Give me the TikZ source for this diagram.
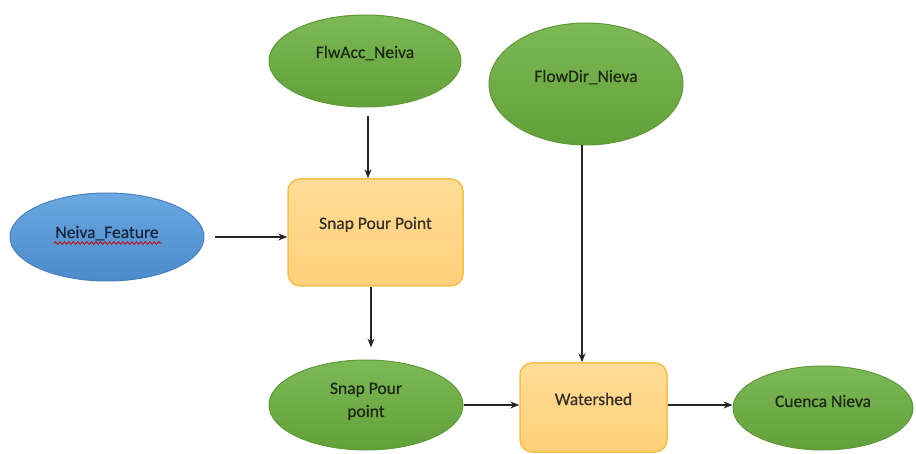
\documentclass[tikz,border=0pt]{standalone}
\usepackage{fontspec}
\setmainfont{Carlito}
\newfontfamily\semib[FakeBold=0.6]{Carlito}
\usetikzlibrary{shapes.geometric,arrows.meta,decorations.pathmorphing}
\definecolor{gtop}{HTML}{7DB957}
\definecolor{gbot}{HTML}{62A03A}
\definecolor{gline}{HTML}{5E9A3A}
\definecolor{btop}{HTML}{6AA8E0}
\definecolor{bbot}{HTML}{4C8ACB}
\definecolor{bline}{HTML}{4A80BE}
\definecolor{ytop}{HTML}{FFDC96}
\definecolor{ybot}{HTML}{FFD07A}
\definecolor{yline}{HTML}{F2C14E}
\definecolor{gtext}{HTML}{1E2A16}
\definecolor{btext}{HTML}{1A2640}
\definecolor{ytext}{HTML}{36302A}
\newcommand{\up}[2]{\raisebox{#1}[0pt][0pt]{#2}}
\tikzset{
  x=1pt,y=-1pt,
  gell/.style={ellipse,draw=gline,line width=1pt,top color=gtop,bottom color=gbot,
    inner sep=0pt,text=gtext,font=\semib\fontsize{17.5}{24}\selectfont,align=center},
  bell/.style={ellipse,draw=bline,line width=1pt,top color=btop,bottom color=bbot,
    inner sep=0pt,text=btext,font=\semib\fontsize{17.5}{20}\selectfont},
  ybox/.style={rectangle,rounded corners=12pt,draw=yline,line width=1.5pt,top color=ytop,bottom color=ybot,
    inner sep=0pt,text=ytext,font=\semib\fontsize{17.5}{20}\selectfont},
  arr/.style={-{Stealth[length=9pt,width=7pt]},line width=1.1pt,black!85}
}
\begin{document}
\begin{tikzpicture}
\useasboundingbox (0,0) rectangle (916,454);
\fill[white] (0,0) rectangle (916,454);
\node[bell,minimum width=194pt,minimum height=88pt] (nf) at (107,237) {\up{-1pt}{Neiva\_Feature}};
\node[gell,minimum width=192pt,minimum height=92pt] (fa) at (365,61) {\up{3pt}{FlwAcc\_Neiva}};
\node[gell,minimum width=194pt,minimum height=122pt] (fd) at (586,84) {\up{2pt}{FlowDir\_Nieva}};
\node[ybox,minimum width=175pt,minimum height=107pt] (spp) at (375.5,232.5) {\up{3.5pt}{Snap Pour Point}};
\node[gell,minimum width=194pt,minimum height=90pt] (sp) at (366,405) {\up{0pt}{\begin{tabular}{@{}c@{}}Snap Pour\\[-1pt]point\end{tabular}}};
\node[ybox,minimum width=147pt,minimum height=89pt] (ws) at (593.5,407.5) {\up{2.5pt}{Watershed}};
\node[gell,minimum width=180pt,minimum height=84pt] (cn) at (823,408) {\up{1pt}{Cuenca Nieva}};
% spell-check squiggle
\draw[red!80!black,line width=0.8pt,decorate,decoration={snake,amplitude=1.3pt,segment length=4.5pt}]
  ([xshift=-53pt,yshift=-6pt]nf.center) -- ([xshift=55pt,yshift=-6pt]nf.center);
% connectors
\draw[arr,shorten <=10pt] (nf.east) -- (nf.east -| spp.west);
\draw[arr,shorten <=9pt] ([xshift=3pt]fa.south) -- ([xshift=3pt]fa.south |- spp.north);
\draw[arr,shorten >=12pt] ([xshift=-4.5pt]spp.south) -- ([xshift=-4.5pt]spp.south |- sp.north);
\draw[arr] ([xshift=-4pt]fd.south) -- ([xshift=-4pt]fd.south |- ws.north);
\draw[arr] (sp.east) -- (sp.east -| ws.west);
\draw[arr] ([yshift=2.5pt]ws.east) -- ([yshift=3pt]cn.west);
\end{tikzpicture}
\end{document}
